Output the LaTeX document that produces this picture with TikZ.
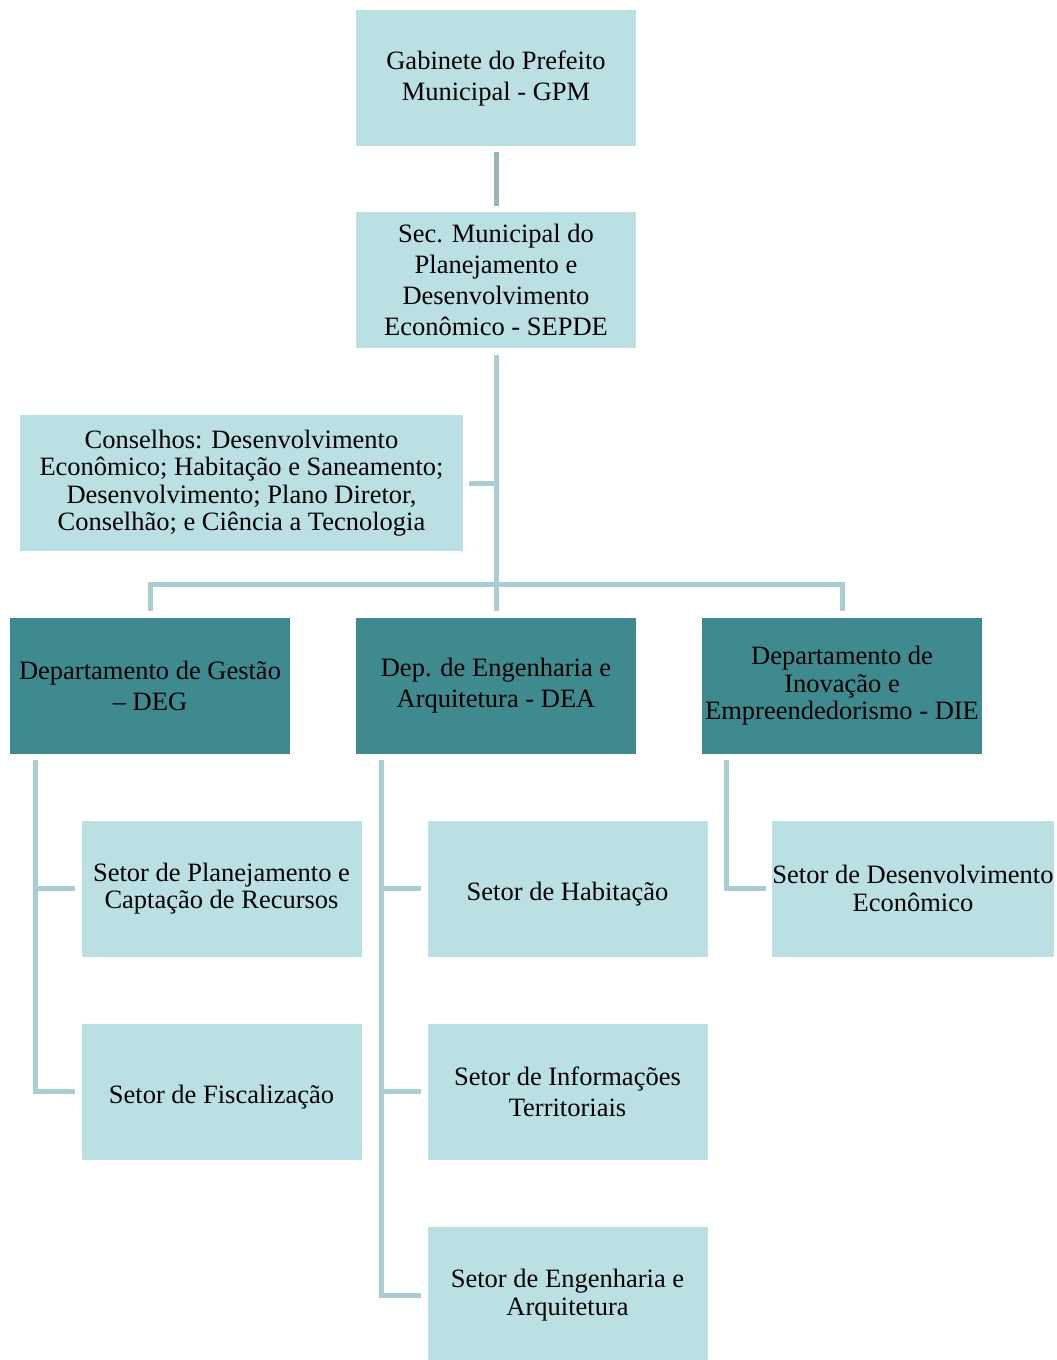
\documentclass[tikz,border=0pt]{standalone}
\usepackage{fontspec}
\setmainfont{Liberation Serif}
\usetikzlibrary{positioning}
\definecolor{boxlight}{HTML}{BBE0E3}
\definecolor{boxdark}{HTML}{3E8A8F}
\definecolor{linklight}{HTML}{A8CED2}
\definecolor{linkgrey}{HTML}{98B5B8}
\tikzset{
	unit/.style={fill=boxlight, minimum width=280pt, minimum height=136pt, inner sep=0pt, align=center, font=\fontsize{26.5}{31}\selectfont, execute at begin node={\rule{0pt}{29pt}}},
	dept/.style={unit, fill=boxdark},
	tight/.style={font=\fontsize{26.5}{27.5}\selectfont},
	link/.style={draw=linklight, line width=5pt},
}
\begin{document}
\begin{tikzpicture}[x=1pt,y=-1pt]
	\useasboundingbox (0,0) rectangle (1057,1360);
	% top levels
	\node[unit] (gpm) at (496,78) {Gabinete do Prefeito\\Municipal - GPM};
	\node[unit] (sepde) at (496,280) {Sec. Municipal do\\Planejamento e\\Desenvolvimento\\Econômico - SEPDE};
	\node[unit, tight, minimum width=443pt] (cons) at (241.5,483) {Conselhos: Desenvolvimento\\Econômico; Habitação e Saneamento;\\Desenvolvimento; Plano Diretor,\\Conselhão; e Ciência a Tecnologia};
	% departments
	\node[dept] (deg) at (150,686) {Departamento de Gestão\\– DEG};
	\node[dept] (dea) at (496,686) {Dep. de Engenharia e\\Arquitetura - DEA};
	\node[dept, tight] (die) at (842,686) {Departamento de\\Inovação e\\Empreendedorismo - DIE};
	% sectors
	\node[unit, tight] (plan) at (221.5,888.5) {Setor de Planejamento e\\Captação de Recursos};
	\node[unit, below=67pt of plan] (fisc) {Setor de Fiscalização};
	\node[unit] (hab) at (567.5,888.5) {Setor de Habitação};
	\node[unit, below=67pt of hab] (info) {Setor de Informações\\Territoriais};
	\node[unit, tight, below=67pt of info] (eng) {Setor de Engenharia e\\Arquitetura};
	\node[unit, tight] (econ) at (913,888.5) {Setor de Desenvolvimento\\Econômico};
	% connectors
	\draw[link, draw=linkgrey, shorten <=6pt, shorten >=6pt] (gpm) -- (sepde);
	\draw[link] ([yshift=-7pt]sepde.south) -- ([yshift=7pt]dea.north);
	\draw[link] ([xshift=6pt]cons.east) -- (cons.east -| sepde.south);
	\coordinate (bus) at (496,584);
	\draw[link] ([yshift=7pt]deg.north) |- (bus) -| ([yshift=7pt]die.north);
	\draw[link] ([xshift=26pt,yshift=-6pt]deg.south west) |- ([xshift=-6pt]plan.west);
	\draw[link] ([xshift=26pt,yshift=-6pt]deg.south west) |- ([xshift=-6pt]fisc.west);
	\draw[link] ([xshift=26pt,yshift=-6pt]dea.south west) |- ([xshift=-6pt]hab.west);
	\draw[link] ([xshift=26pt,yshift=-6pt]dea.south west) |- ([xshift=-6pt]info.west);
	\draw[link] ([xshift=26pt,yshift=-6pt]dea.south west) |- ([xshift=-6pt]eng.west);
	\draw[link] ([xshift=25pt,yshift=-6pt]die.south west) |- ([xshift=-6pt]econ.west);
\end{tikzpicture}
\end{document}
